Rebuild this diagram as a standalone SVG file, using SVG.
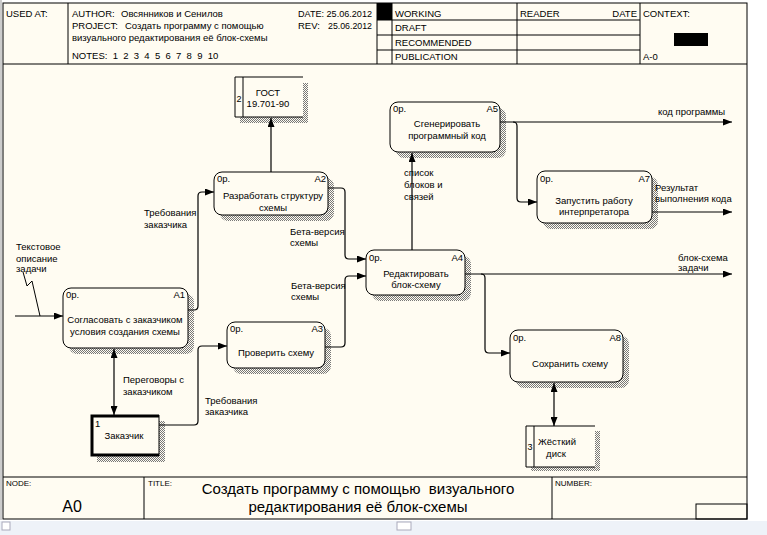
<svg xmlns="http://www.w3.org/2000/svg" width="767" height="535" viewBox="0 0 767 535">
<style>
.t{font-family:"Liberation Sans",Arial,sans-serif;font-size:9.5px;fill:#000}
.m{text-anchor:middle}
.e{text-anchor:end}
.s{font-size:8px}
.big{font-family:"Liberation Sans",Arial,sans-serif;font-size:15px;fill:#000;text-anchor:middle}
.box{fill:#FFFCF2;stroke:#000;stroke-width:1}
.sh{fill:url(#hatch)}
.ln{fill:none;stroke:#000;stroke-width:1}
.c{fill:none;stroke:#000;stroke-width:1.2;marker-end:url(#ah)}
.d{fill:none;stroke:#000;stroke-width:1.2;marker-end:url(#ah);marker-start:url(#ah)}
</style>
<defs>
<pattern id="hatch" width="2" height="2" patternUnits="userSpaceOnUse">
<rect width="2" height="2" fill="#FFFCF2"/>
<rect width="1" height="1" fill="#777"/>
<rect x="1" y="1" width="1" height="1" fill="#777"/>
</pattern>
<marker id="ah" markerWidth="9" markerHeight="7" refX="9" refY="3.5" orient="auto-start-reverse" markerUnits="userSpaceOnUse">
<path d="M0,0 L9,3.5 L0,7 z" fill="#000"/>
</marker>
</defs>
<rect width="767" height="535" fill="#fff"/>
<rect x="3" y="3" width="744" height="516" fill="#FFFCF2" stroke="#000" stroke-width="1"/>
<line x1="1" y1="0" x2="1" y2="520" stroke="#999" stroke-width="1"/>
<rect x="0" y="521" width="767" height="14" fill="#EEF2F8"/>
<rect x="2" y="522" width="8" height="8" fill="#fff" stroke="#aab" stroke-width="1"/>
<rect x="397" y="522" width="14" height="8" fill="#fff" stroke="#aab" stroke-width="1"/>

<g id="header">
<line class="ln" x1="3" y1="64" x2="747" y2="64"/>
<line class="ln" x1="68" y1="3" x2="68" y2="64"/>
<line class="ln" x1="377" y1="3" x2="377" y2="64"/>
<line class="ln" x1="392" y1="3" x2="392" y2="64"/>
<line class="ln" x1="517" y1="3" x2="517" y2="64"/>
<line class="ln" x1="640" y1="3" x2="640" y2="64"/>
<line class="ln" x1="377" y1="20" x2="640" y2="20"/>
<line class="ln" x1="377" y1="35" x2="640" y2="35"/>
<line class="ln" x1="377" y1="50" x2="640" y2="50"/>
<rect x="377" y="3" width="15" height="17" fill="#000"/>
<rect x="674" y="33" width="34" height="13" fill="#000"/>
<text class="t" x="6" y="17">USED AT:</text>
<text class="t" x="72" y="17">AUTHOR:</text>
<text class="t" x="121" y="17">Овсянников и Сенилов</text>
<text class="t" x="72" y="29">PROJECT:</text>
<text class="t" x="125" y="29">Создать программу с помощью</text>
<text class="t" x="72" y="41">визуального редактирования её блок-схемы</text>
<text class="t" x="72" y="59" xml:space="preserve">NOTES:  1  2  3  4  5  6  7  8  9  10</text>
<text class="t" x="298" y="17" textLength="74" lengthAdjust="spacingAndGlyphs">DATE: 25.06.2012</text>
<text class="t" x="298" y="29">REV:</text>
<text class="t" x="328" y="29" textLength="44" lengthAdjust="spacingAndGlyphs">25.06.2012</text>
<text class="t" x="395" y="17">WORKING</text>
<text class="t" x="395" y="31">DRAFT</text>
<text class="t" x="395" y="46">RECOMMENDED</text>
<text class="t" x="395" y="60">PUBLICATION</text>
<text class="t" x="520" y="17">READER</text>
<text class="t e" x="637" y="17">DATE</text>
<text class="t" x="643" y="17">CONTEXT:</text>
<text class="t" x="643" y="60">A-0</text>
</g>

<g id="footer">
<line class="ln" x1="3" y1="477" x2="747" y2="477"/>
<line class="ln" x1="144" y1="477" x2="144" y2="519"/>
<line class="ln" x1="552" y1="477" x2="552" y2="519"/>
<rect x="696" y="504" width="51" height="15" fill="none" stroke="#000"/>
<text class="t s" x="6" y="486">NODE:</text>
<text class="big" x="72" y="512" style="font-size:16px">A0</text>
<text class="t s" x="148" y="486">TITLE:</text>
<text class="big" x="358" y="494" xml:space="preserve">Создать программу с помощью  визуального</text>
<text class="big" x="358" y="512">редактирования её блок-схемы</text>
<text class="t s" x="555" y="486">NUMBER:</text>
</g>

<g id="A1">
<rect class="sh" x="69" y="294" width="125" height="60" rx="8"/>
<rect class="box" x="63" y="288" width="125" height="60" rx="8"/>
<text class="t" x="66" y="298">0р.</text>
<text class="t e" x="185" y="298">A1</text>
<text class="t m" x="125" y="323">Согласовать с заказчиком</text>
<text class="t m" x="125" y="335">условия создания схемы</text>
</g>

<g id="A2">
<rect class="sh" x="220" y="178" width="114" height="43" rx="8"/>
<rect class="box" x="214" y="172" width="114" height="43" rx="8"/>
<text class="t" x="217" y="182">0р.</text>
<text class="t e" x="326" y="182">A2</text>
<text class="t m" x="273" y="199">Разработать структуру</text>
<text class="t m" x="273" y="211">схемы</text>
</g>

<g id="A3">
<rect class="sh" x="233" y="328" width="98" height="46" rx="8"/>
<rect class="box" x="227" y="322" width="98" height="46" rx="8"/>
<text class="t" x="230" y="332">0р.</text>
<text class="t e" x="323" y="332">A3</text>
<text class="t m" x="276" y="356">Проверить схему</text>
</g>

<g id="A4">
<rect class="sh" x="372" y="256" width="99" height="45" rx="8"/>
<rect class="box" x="366" y="250" width="99" height="45" rx="8"/>
<text class="t" x="369" y="261">0р.</text>
<text class="t e" x="463" y="261">A4</text>
<text class="t m" x="416" y="277">Редактировать</text>
<text class="t m" x="416" y="288">блок-схему</text>
</g>

<g id="A5">
<rect class="sh" x="396" y="108" width="110" height="50" rx="8"/>
<rect class="box" x="390" y="102" width="110" height="50" rx="8"/>
<text class="t" x="393" y="112">0р.</text>
<text class="t e" x="498" y="112">A5</text>
<text class="t m" x="447" y="127">Сгенерировать</text>
<text class="t m" x="447" y="139">программный код</text>
</g>

<g id="A7">
<rect class="sh" x="543" y="177" width="115" height="52" rx="8"/>
<rect class="box" x="537" y="171" width="115" height="52" rx="8"/>
<text class="t" x="540" y="182">0р.</text>
<text class="t e" x="650" y="182">A7</text>
<text class="t m" x="594" y="204">Запустить работу</text>
<text class="t m" x="594" y="215">интерпретатора</text>
</g>

<g id="A8">
<rect class="sh" x="516" y="336" width="113" height="52" rx="8"/>
<rect class="box" x="510" y="330" width="113" height="52" rx="8"/>
<text class="t" x="513" y="341">0р.</text>
<text class="t e" x="621" y="341">A8</text>
<text class="t m" x="570" y="367">Сохранить схему</text>
</g>

<g id="GOST">
<rect class="sh" x="303" y="83" width="5" height="40"/>
<rect class="sh" x="240" y="117" width="68" height="6"/>
<rect x="235" y="77" width="68" height="40" fill="#FFFCF2"/>
<path class="ln" d="M303,77 H235 V117 H303 M243,77 V117"/>
<text class="t" x="236.5" y="102" style="font-size:9px">2</text>
<text class="t m" x="268" y="96">ГОСТ</text>
<text class="t m" x="268" y="107">19.701-90</text>
</g>

<g id="Disk">
<rect class="sh" x="595" y="431" width="5" height="40"/>
<rect class="sh" x="531" y="467" width="69" height="4"/>
<rect x="526" y="426" width="69" height="41" fill="#FFFCF2"/>
<path class="ln" d="M595,426 H526 V467 H595 M534,426 V467"/>
<text class="t" x="527.5" y="450" style="font-size:9px">3</text>
<text class="t m" x="557" y="445">Жёсткий</text>
<text class="t m" x="556" y="457">диск</text>
</g>

<g id="Customer">
<rect class="sh" x="97" y="421" width="68" height="41"/>
<rect x="91" y="415" width="68" height="41" fill="#FFFCF2"/>
<path d="M159,416 H92 V455 H159" fill="none" stroke="#000" stroke-width="3"/>
<line class="ln" x1="159" y1="415" x2="159" y2="456"/>
<text class="t" x="95" y="427">1</text>
<text class="t m" x="124" y="439">Заказчик</text>
</g>

<g id="connectors">
<path class="c" d="M15,316 H63"/>
<path class="ln" d="M23,272 L27,286 L32,281 L40,316"/>
<path class="c" d="M188,310 H194 Q198,310 198,306 V196 Q198,192 202,192 H214"/>
<path class="c" d="M159,425 H194 Q198,425 198,421 V350 Q198,346 202,346 H227"/>
<path class="d" d="M114,349 V415"/>
<path class="c" d="M271,172 V118"/>
<path class="c" d="M328,188 H341 Q345,188 345,192 V255 Q345,259 349,259 H366"/>
<path class="c" d="M325,347 H341 Q345,347 345,343 V280 Q345,276 349,276 H366"/>
<path class="c" d="M412,250 V153"/>
<path class="c" d="M465,274 H732"/>
<path class="c" d="M481,274 Q485,274 485,278 V349 Q485,353 489,353 H510"/>
<path class="c" d="M500,122 H732"/>
<path class="c" d="M513,122 Q517,122 517,126 V198 Q517,202 521,202 H537"/>
<path class="c" d="M652,212 H732"/>
<path class="d" d="M554,383 V426"/>
</g>

<g id="labels">
<text class="t" x="16" y="250">Текстовое</text>
<text class="t" x="16" y="262">описание</text>
<text class="t" x="16" y="272">задачи</text>
<text class="t" x="144" y="216">Требования</text>
<text class="t" x="144" y="228">заказчика</text>
<text class="t" x="290" y="235">Бета-версия</text>
<text class="t" x="290" y="246">схемы</text>
<text class="t" x="291" y="289">Бета-версия</text>
<text class="t" x="291" y="300">схемы</text>
<text class="t" x="123" y="383">Переговоры с</text>
<text class="t" x="123" y="395">заказчиком</text>
<text class="t" x="205" y="404">Требования</text>
<text class="t" x="205" y="415">заказчика</text>
<text class="t" x="404" y="176">список</text>
<text class="t" x="404" y="188">блоков и</text>
<text class="t" x="404" y="200">связей</text>
<text class="t" x="658" y="115">код программы</text>
<text class="t" x="655" y="191">Результат</text>
<text class="t" x="655" y="202">выполнения кода</text>
<text class="t" x="678" y="261">блок-схема</text>
<text class="t" x="678" y="271">задачи</text>
</g>
</svg>
